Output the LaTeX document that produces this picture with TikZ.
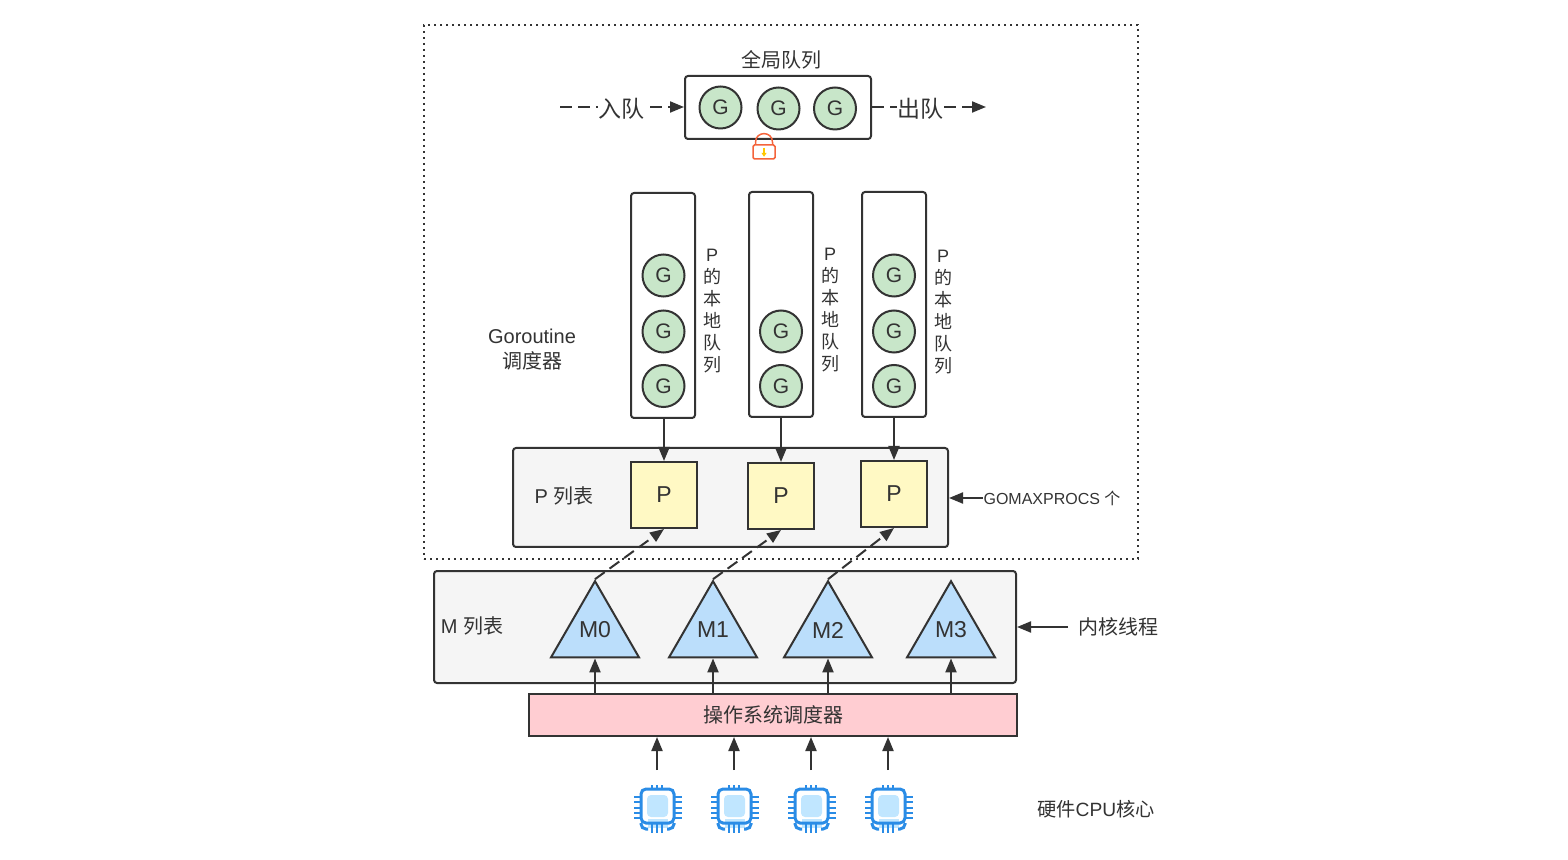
\documentclass[tikz,border=0pt]{standalone}
\usepackage{fontspec}
\setmainfont{Liberation Sans}
\newfontfamily\cjk{Noto Sans CJK SC}
\usetikzlibrary{arrows.meta,shapes.geometric}

\definecolor{ink}{HTML}{333333}
\definecolor{listgray}{HTML}{F5F5F5}
\definecolor{ggreen}{HTML}{C8E6C9}
\definecolor{pyellow}{HTML}{FFF9C4}
\definecolor{mblue}{HTML}{BBDEFB}
\definecolor{ospink}{HTML}{FFCDD2}
\definecolor{chipblue}{HTML}{2A8CE6}
\definecolor{chippale}{HTML}{C0E6FF}
\definecolor{lockred}{HTML}{F4643C}
\definecolor{lockyellow}{HTML}{FFC800}

\newcommand{\zh}[1]{{\cjk #1}}

\tikzset{
  box/.style={draw=ink, line width=1pt, rounded corners=1.5pt, inner sep=0pt},
  listbox/.style={box, fill=listgray},
  gnode/.style={draw=ink, line width=1pt, circle, fill=ggreen, minimum size=21pt, inner sep=0pt, font=\fontsize{10.5}{12}\selectfont},
  pnode/.style={draw=ink, line width=1pt, fill=pyellow, minimum size=33pt, inner sep=0pt, font=\fontsize{11.5}{13}\selectfont},
  mnode/.style={draw=ink, line width=1pt, fill=mblue, regular polygon, regular polygon sides=3, minimum size=50.8pt, inner sep=0pt},
  mtxt/.style={inner sep=0pt, font=\fontsize{11.5}{13}\selectfont},
  txt/.style={inner sep=0pt, align=center, font=\fontsize{10}{12.5}\selectfont},
  vtxt/.style={inner sep=0pt, align=center, font=\fontsize{9}{11}\selectfont},
  flow/.style={-{Triangle[length=7pt,width=5.5pt]}, draw=ink, line width=1pt},
  dflow/.style={flow, dash pattern=on 6pt off 3pt},
  chipnode/.style={minimum size=24pt, inner sep=0pt},
  chip/.pic={
    \fill[chippale] (-10,10) rectangle (10,19);
    \fill[chippale, rounded corners=2pt] (-11,-14) rectangle (10,8);
    \draw[chipblue, line width=1.5pt, rounded corners=2.5pt] (-17,-20) rectangle (16,14);
    \draw[chipblue, line width=1.5pt, rounded corners=2.5pt] (-10,20) -- (-17,20) -- (-17,14);
    \draw[chipblue, line width=1.5pt, rounded corners=2.5pt] (9,20) -- (16,20) -- (16,14);
    \foreach \py in {-12,-7,-1,4,9} {
      \draw[chipblue, line width=1.3pt] (-24,\py) -- (-17,\py);
      \draw[chipblue, line width=1.3pt] (16,\py) -- (24,\py);
    }
    \foreach \px in {-6,-1,4} {
      \draw[chipblue, line width=1.3pt] (\px,-24) -- (\px,-20);
      \draw[chipblue, line width=1.3pt] (\px,15) -- (\px,24);
    }
  }
}

\begin{document}
\begin{tikzpicture}[x=0.5pt, y=-0.5pt, text=ink]

  \useasboundingbox (0,0) rectangle (1568,860);

  \node (sched) [draw=ink, line width=1pt, dotted, minimum width=357pt, minimum height=267pt, inner sep=0pt] at (781,292) {};

  \node (gtitle) [txt] at (781,60) {\zh{全局队列}};
  \node (gqueue) [box, minimum width=93pt, minimum height=31.5pt] at (778,107.5) {};
  \node (g1) [gnode] at (720.5,107.5) {G};
  \node (g2) [gnode] at (778.5,108.5) {G};
  \node (g3) [gnode] at (835,108.5) {G};

  \coordinate (enq) at (560,107);
  \coordinate (deq) at (986,107);
  \draw[dflow] (enq) -- (gqueue.west |- enq);
  \draw[dflow] (gqueue.east |- deq) -- (deq);
  \node (enqtxt) [txt, fill=white, font=\fontsize{11.5}{13}\selectfont] at (621,109) {\zh{入队}};
  \node (deqtxt) [txt, fill=white, font=\fontsize{11.5}{13}\selectfont] at (920,109) {\zh{出队}};

  \node (lock) [draw=lockred, line width=0.75pt, rounded corners=0.75pt, fill=white, minimum width=11pt, minimum height=7pt, inner sep=0pt] at (764,152) {};
  \draw[lockred, line width=0.75pt] (lock.north) ++(-8.5,0) -- ++(0,-2) .. controls +(0,-11.5) and +(0,-11.5) .. ++(17,0) -- ++(0,2);
  \draw[lockyellow, line width=0.6pt, -{Triangle[length=2pt,width=2.5pt]}] ([yshift=2.2pt]lock.center) -- ([yshift=-2.4pt]lock.center);

  \node (lq1) [box, minimum width=32pt, minimum height=112.5pt] at (663,305.5) {};
  \node (lq2) [box, minimum width=32pt, minimum height=112.5pt] at (781,304.5) {};
  \node (lq3) [box, minimum width=32pt, minimum height=112.5pt] at (894,304.5) {};

  \node (g11) [gnode] at (663.5,275.5) {G};
  \node (g12) [gnode] at (663.5,331.5) {G};
  \node (g13) [gnode] at (663.5,386) {G};
  \node (g22) [gnode] at (781,331.5) {G};
  \node (g23) [gnode] at (781,386) {G};
  \node (g31) [gnode] at (894,275.5) {G};
  \node (g32) [gnode] at (894,331.5) {G};
  \node (g33) [gnode] at (894,386) {G};

  \node (lt1) [vtxt] at (712,311) {P\\\zh{的}\\\zh{本}\\\zh{地}\\\zh{队}\\\zh{列}};
  \node (lt2) [vtxt] at (830,310) {P\\\zh{的}\\\zh{本}\\\zh{地}\\\zh{队}\\\zh{列}};
  \node (lt3) [vtxt] at (943,312) {P\\\zh{的}\\\zh{本}\\\zh{地}\\\zh{队}\\\zh{列}};

  \node (gosched) [txt] at (532,350) {Goroutine\\\zh{调度器}};

  \node (plist) [listbox, minimum width=217.5pt, minimum height=49.5pt] at (730.5,497.5) {};
  \node (plisttxt) [txt] at (564,496) {P \zh{列表}};
  \node (p1) [pnode] at (664,495) {P};
  \node (p2) [pnode] at (781,496) {P};
  \node (p3) [pnode] at (894,494) {P};

  \draw[flow] (lq1.south -| p1) -- (p1.north);
  \draw[flow] (lq2.south) -- (p2.north);
  \draw[flow] (lq3.south) -- (p3.north);

  \node (gomax) [inner sep=0pt, font=\fontsize{8}{10}\selectfont] at (1052,498) {GOMAXPROCS \zh{个}};
  \draw[flow] (gomax.west) -- (plist.east |- gomax.west);

  \node (mlist) [listbox, minimum width=291pt, minimum height=56pt] at (725,627) {};
  \node (mlisttxt) [txt] at (472,626) {M \zh{列表}};
  \node (m0) [mnode] at (595,632) {};
  \node (m1) [mnode] at (713,632) {};
  \node (m2) [mnode] at (828,632) {};
  \node (m3) [mnode] at (951,632) {};
  \node (m0txt) [mtxt] at (595,630) {M0};
  \node (m1txt) [mtxt] at (713,630) {M1};
  \node (m2txt) [mtxt] at (828,630) {M2};
  \node (m3txt) [mtxt] at (951,630) {M3};

  \draw[dflow] (m0.corner 1) -- (p1.south);
  \draw[dflow] (m1.corner 1) -- (p2.south);
  \draw[dflow] (m2.corner 1) -- (p3.south);

  \node (kthread) [txt] at (1118,627) {\zh{内核线程}};
  \coordinate (kstart) at (1068,627);
  \draw[flow] (kstart) -- (mlist.east |- kstart);

  \node (os) [draw=ink, line width=1pt, fill=ospink, minimum width=244pt, minimum height=21pt, inner sep=0pt, font=\fontsize{10}{12.5}\selectfont] at (773,715) {\zh{操作系统调度器}};

  \draw[flow] (os.north -| m0) -- (m0.side 2);
  \draw[flow] (os.north -| m1) -- (m1.side 2);
  \draw[flow] (os.north -| m2) -- (m2.side 2);
  \draw[flow] (os.north -| m3) -- (m3.side 2);

  \foreach \i/\cx in {0/658,1/735,2/812,3/889} {
    \node (cpu\i) [chipnode] at (\cx,809) {};
    \pic at (cpu\i) {chip};
    \coordinate (cpuup\i) at (\cx-1,770);
    \draw[flow] (cpuup\i) -- (os.south -| cpuup\i);
  }

  \node (cputxt) [txt, font=\fontsize{9.6}{12}\selectfont] at (1096,809) {\zh{硬件}CPU\zh{核心}};

\end{tikzpicture}
\end{document}
